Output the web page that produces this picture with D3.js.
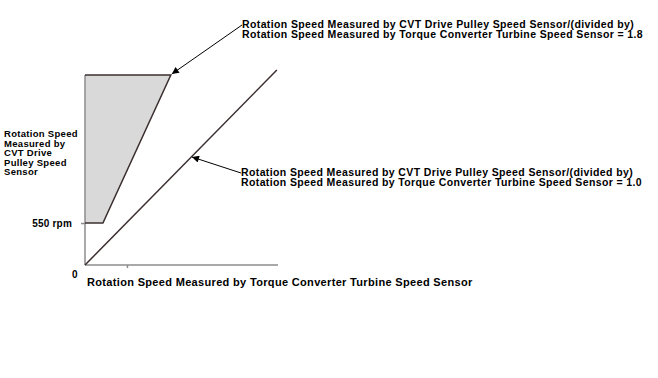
<!DOCTYPE html>
<html>
<head>
<meta charset="utf-8">
<script src="https://cdn.jsdelivr.net/npm/d3@7"></script>
<style>
  body { margin: 0; background: #fff; }
  text { font-family: Arial, "Liberation Sans", sans-serif; font-weight: bold; fill: #000; }
</style>
</head>
<body>
<svg id="chart" width="658" height="378"></svg>
<script>
// values in rpm
const X_MAX = 2530;
const Y_MAX = 2490;
const X_TICKS = [550];
const Y_TICKS = [550];
const Y_TICK_LABELS = ["550 rpm"];

// ratio 1.8 band: lower edge at 550 rpm, then the 1.8 line up to the top
const bandX = [0, 235, 1125, 0];
const bandY = [550, 550, Y_MAX, Y_MAX];

// ratio 1.0 line
const diagX = [0, 2515];
const diagY = [0, 2555];

const Y_LABEL = ["Rotation Speed", "Measured by", "CVT Drive", "Pulley Speed", "Sensor"];
const X_LABEL = "Rotation Speed Measured by Torque Converter Turbine Speed Sensor";
const NOTE_TOP = [
  "Rotation Speed Measured by CVT Drive Pulley Speed Sensor/(divided by)",
  "Rotation Speed Measured by Torque Converter Turbine Speed Sensor = 1.8",
];
const NOTE_MID = [
  "Rotation Speed Measured by CVT Drive Pulley Speed Sensor/(divided by)",
  "Rotation Speed Measured by Torque Converter Turbine Speed Sensor = 1.0",
];

const LINE = "#3b2f2f";
const AXIS = "#8c8c8c";

const svg = d3.select("#chart");

const x = d3.scaleLinear().domain([0, X_MAX]).range([85, 278]);
const y = d3.scaleLinear().domain([0, Y_MAX]).range([265, 75]);

svg.append("defs").append("marker")
  .attr("id", "arrow")
  .attr("viewBox", "0 0 10 10")
  .attr("refX", 10).attr("refY", 5)
  .attr("markerWidth", 9).attr("markerHeight", 7)
  .attr("markerUnits", "userSpaceOnUse")
  .attr("orient", "auto")
  .append("path")
  .attr("d", "M0,0L10,5L0,10z")
  .attr("fill", "#000");

// grey band
const band = d3.range(bandX.length).map((i) => [x(bandX[i]), y(bandY[i])]);
svg.append("path")
  .attr("d", d3.line()(band) + "Z")
  .attr("fill", "#d9d9d9");

// axes
svg.append("g")
  .attr("transform", `translate(0, ${y(0)})`)
  .call(d3.axisBottom(x).tickValues(X_TICKS).tickSize(3).tickFormat(""))
  .call((g) => g.select(".domain").attr("d", `M${x(0)},0H${x(X_MAX)}`))
  .call((g) => g.selectAll("path, line").attr("stroke", AXIS).attr("stroke-width", 1.5));

svg.append("g")
  .attr("transform", `translate(${x(0)}, 0)`)
  .call(d3.axisLeft(y).tickValues(Y_TICKS).tickSize(4).tickFormat(""))
  .call((g) => g.select(".domain").attr("d", `M0,${y(0)}V${y(Y_MAX)}`))
  .call((g) => g.selectAll("path, line").attr("stroke", AXIS).attr("stroke-width", 1.5));

// band outline (bottom edge, 1.8 line, top edge)
svg.append("path")
  .attr("d", d3.line()(band))
  .attr("fill", "none")
  .attr("stroke", LINE)
  .attr("stroke-width", 1.5);

// 1.0 line
svg.append("path")
  .attr("d", d3.line()(diagX.map((v, i) => [x(v), y(diagY[i])])))
  .attr("fill", "none")
  .attr("stroke", LINE)
  .attr("stroke-width", 1.5);

// labels
svg.selectAll(".ytick-label")
  .data(Y_TICKS)
  .join("text")
  .attr("x", 72)
  .attr("y", (d) => y(d) + 3.5)
  .attr("text-anchor", "end")
  .attr("font-size", "10px")
  .attr("letter-spacing", "0.2px")
  .text((d, i) => Y_TICK_LABELS[i]);

svg.append("text")
  .attr("x", 72).attr("y", 278)
  .attr("font-size", "10px")
  .text("0");

svg.append("text")
  .attr("x", 87).attr("y", 286)
  .attr("font-size", "11px")
  .attr("letter-spacing", "0.33px")
  .text(X_LABEL);

// multi-line labels as one text element with tspans
function multiline(lines, tx, ty, step, size, spacing) {
  svg.append("text")
    .attr("x", tx)
    .attr("y", ty)
    .attr("font-size", size)
    .attr("letter-spacing", spacing)
    .selectAll("tspan")
    .data(lines)
    .join("tspan")
    .attr("x", tx)
    .attr("dy", (d, i) => (i === 0 ? 0 : step))
    .text((d) => d);
}

multiline(Y_LABEL, 4, 137, 9.5, "9.5px", "0.3px");

function note(lines, tx, ty, ax, ay) {
  svg.append("line")
    .attr("x1", tx).attr("y1", ty)
    .attr("x2", ax).attr("y2", ay)
    .attr("stroke", "#000")
    .attr("stroke-width", 1)
    .attr("marker-end", "url(#arrow)");
  multiline(lines, tx, ty + 2.7, 10.6, "10.5px", "0.38px");
}

note(NOTE_TOP, 242, 25, x(bandX[2]) + 1, y(Y_MAX) - 1);
note(NOTE_MID, 241, 173, 192, 157);
</script>
</body>
</html>
